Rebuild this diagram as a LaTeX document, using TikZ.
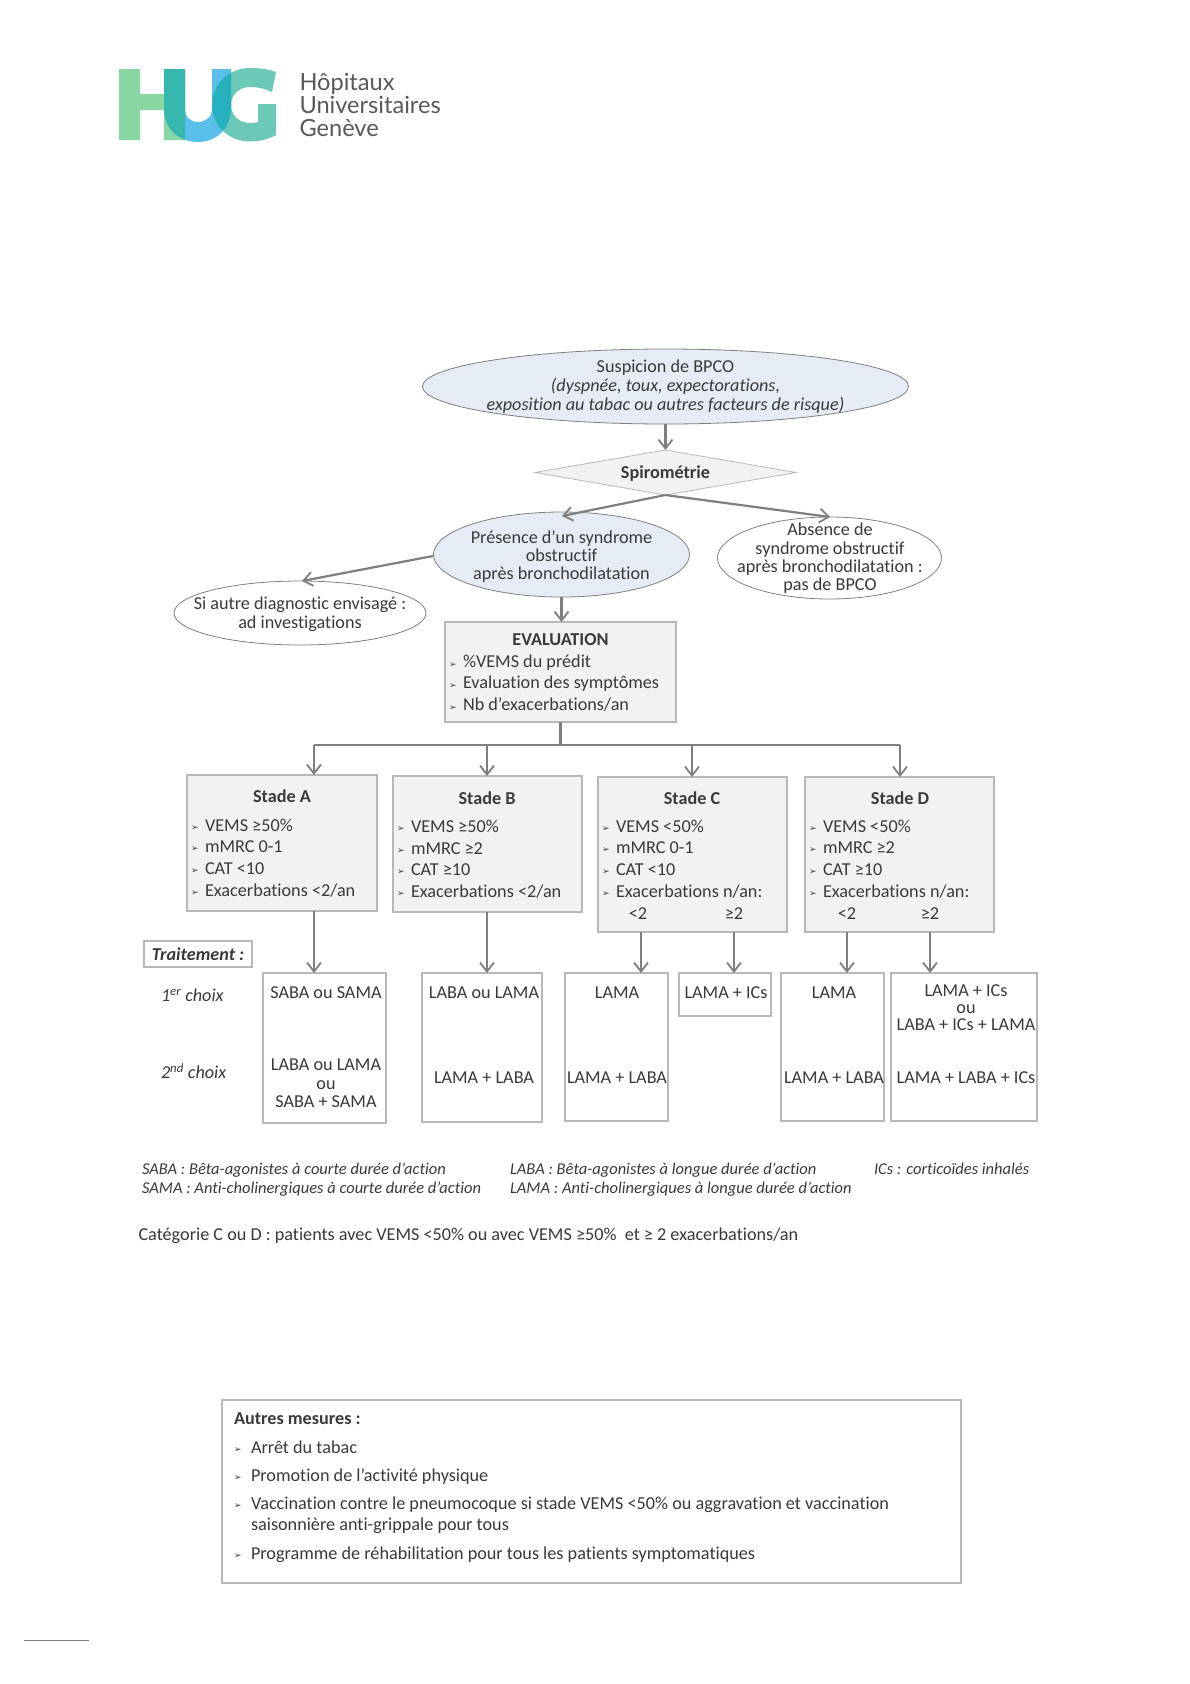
\documentclass[tikz,border=0pt]{standalone}
\usepackage{fontspec}
\usetikzlibrary{shapes.geometric,arrows.meta}
\setmainfont[Ligatures=CommonOff]{Carlito}
\newfontfamily\bulfont{DejaVu Sans}
\newfontfamily\logofont{Lato}
\newcommand{\bl}[1]{\makebox[#1pt][l]{\bulfont\fontsize{9}{9}\selectfont\raisebox{0.5pt}{➢}}}
\newcommand{\fs}{\fontsize{18.2}{19}\selectfont}
\definecolor{ink}{HTML}{3A3A3A}
\definecolor{edge}{HTML}{B8B8B8}
\definecolor{arrowc}{HTML}{7F7F7F}
\definecolor{boxfill}{HTML}{F2F2F2}
\definecolor{ellfill}{HTML}{E6ECF5}
\definecolor{logoH}{HTML}{8AD6A3}
\definecolor{logoU}{HTML}{5ABFEA}
\definecolor{logoG}{HTML}{6CC9B8}
\definecolor{logoHU}{HTML}{36B8AE}
\definecolor{logoUG}{HTML}{27B0BE}
\tikzset{
  txt/.style={inner sep=0pt,outer sep=0pt,text=ink,font=\fs,text height=14.3pt,text depth=1.7pt},
  lefttxt/.style={txt,anchor=west},
  boldtxt/.style={txt,font=\fs\bfseries},
  itatxt/.style={txt,font=\fs\itshape},
  small/.style={txt,anchor=west,font=\fontsize{16.5}{18}\selectfont\itshape},
  ell/.style={draw=arrowc,line width=0.8pt,ellipse,inner sep=0pt,outer sep=0pt},
  greybox/.style={draw=edge,line width=1.1pt,fill=boxfill,rectangle,inner sep=0pt,outer sep=0pt},
  whitebox/.style={draw=edge,line width=1.1pt,fill=white,rectangle,inner sep=0pt,outer sep=0pt},
  arr/.style={draw=arrowc,line width=2.2pt,-{Straight Barb[length=9pt,width=14pt,line width=1.8pt]}},
  plainline/.style={draw=arrowc,line width=2.2pt},
  logot/.style={inner sep=0pt,outer sep=0pt,anchor=west,text=black!65,font=\logofont\fontsize{23.6}{24}\selectfont,text height=17.4pt,text depth=0pt},
}
\newcommand{\rectbox}[6]{\pgfmathsetmacro\rw{#5-#3}\pgfmathsetmacro\rh{#6-#4}\pgfmathsetmacro\rx{(#3+#5)/2}\pgfmathsetmacro\ry{(#4+#6)/2}\node[#1,minimum width=\rw pt,minimum height=\rh pt] (#2) at (\rx,\ry) {};}
\def\Hpath{(119,69) -- (140,69) -- (140,94) -- (164,94) -- (164,69) -- (185,69) -- (185,140) -- (164,140) -- (164,110) -- (140,110) -- (140,140) -- (119,140) -- cycle}
\def\Upath{(164,69) -- (185,69) -- (185,108) .. controls (185,117) and (190,122) .. (198,122) .. controls (206,122) and (212,117) .. (212,108) -- (212,69) -- (231,69) -- (231,108) .. controls (231,128) and (217,142) .. (198,142) .. controls (178,142) and (164,128) .. (164,108) -- cycle}
\def\Gpath{(276,72) .. controls (268,69) and (260,68) .. (250,68) .. controls (229,68) and (212,84) .. (212,105) .. controls (212,126) and (229,141.5) .. (250,141.5) .. controls (260,141.5) and (269,139) .. (276,135) -- (276,104) -- (258,104) -- (258,122) .. controls (255,123) and (252,123) .. (250,123) .. controls (239,123) and (231,115) .. (231,105) .. controls (231,95) and (239,87) .. (250,87) .. controls (258,87) and (266,89) .. (272,92) -- cycle}
\begin{document}
\begin{tikzpicture}[x=1pt,y=-1pt]
\useasboundingbox (0,0) rectangle (1190,1684);
\fill[white] (0,0) rectangle (1190,1684);
% logo
\fill[logoH] \Hpath;
\fill[logoU] \Upath;
\fill[logoG] \Gpath;
\begin{scope}\clip \Hpath; \fill[logoHU] \Upath;\end{scope}
\begin{scope}\clip \Upath; \fill[logoUG] \Gpath;\end{scope}
\node[logot] (logoa) at (299.5,82) {Hôpitaux};
\node[logot] (logob) at (299.5,105) {Universitaires};
\node[logot] (logoc) at (299.5,128) {Genève};
% top flow
\node[ell,fill=ellfill,minimum width=486pt,minimum height=75pt] (susp) at (665.5,386.5) {};
\node[txt] (s1) at (665.5,366.5) {Suspicion de BPCO};
\node[itatxt] (s2) at (665.5,385) {(dyspnée, toux, expectorations,};
\node[itatxt] (s3) at (665.5,404) {exposition au tabac ou autres facteurs de risque)};
\node[diamond,draw=edge,line width=0.8pt,fill=boxfill,inner sep=0pt,outer sep=0pt,aspect=5.8,minimum width=261pt,minimum height=45pt] (spiro) at (665.5,472.5) {};
\node[boldtxt] (spirot) at (665.5,472.5) {Spirométrie};
\node[ell,fill=ellfill,minimum width=256pt,minimum height=85pt] (pres) at (561.5,554.5) {};
\node[txt] (p1) at (561.5,537) {Présence d’un syndrome};
\node[txt] (p2) at (561.5,555) {obstructif};
\node[txt] (p3) at (561.5,573) {après bronchodilatation};
\node[ell,fill=white,minimum width=224pt,minimum height=82pt] (abs) at (829.5,558) {};
\node[txt] (a1) at (830,529.5) {Absence de};
\node[txt] (a2) at (830,548) {syndrome obstructif};
\node[txt] (a3) at (830,566) {après bronchodilatation :};
\node[txt] (a4) at (830,584.5) {pas de BPCO};
\node[ell,fill=white,minimum width=252pt,minimum height=64pt] (autre) at (300,613) {};
\node[txt] (o1) at (300,603) {Si autre diagnostic envisagé :};
\node[txt] (o2) at (300,622) {ad investigations};
\rectbox{greybox}{eval}{445}{622}{676}{722}
\node[boldtxt] (e0) at (560.5,639) {EVALUATION};
\node[lefttxt] (e1) at (449,661.5) {\bl{14}\%VEMS du prédit};
\node[lefttxt] (e2) at (449,682.5) {\bl{14}Evaluation des symptômes};
\node[lefttxt] (e3) at (449,704.5) {\bl{14}Nb d’exacerbations/an};
\draw[arr] (susp.south) -- (spiro.north);
\coordinate (sp) at (spiro.south);
\coordinate (pt) at (562,516);
\coordinate (at) at (830,517);
\draw[arr] (sp) -- (pt);
\draw[arr] (sp) -- (at);
\coordinate (pl) at (433,556);
\coordinate (ot) at (302,581);
\draw[arr] (pl) -- (ot);
\draw[arr] (pres.south) -- (pres.south |- eval.north);
% stage boxes
\rectbox{greybox}{stA}{187}{775}{377}{911}
\rectbox{greybox}{stB}{393}{776}{582}{912}
\rectbox{greybox}{stC}{598}{777}{787}{932}
\rectbox{greybox}{stD}{805}{777}{994}{932}
\coordinate (bj) at (560.5,745);
\coordinate (bA) at (314,745);
\coordinate (bB) at (487,745);
\coordinate (bC) at (692,745);
\coordinate (bD) at (900,745);
\draw[plainline] (eval.south -| bj) -- (bj);
\draw[plainline] (bA) -- (bD);
\draw[arr] (bA) -- (bA |- stA.north);
\draw[arr] (bB) -- (bB |- stB.north);
\draw[arr] (bC) -- (bC |- stC.north);
\draw[arr] (bD) -- (bD |- stD.north);
% stage A
\node[boldtxt] (At) at (282,796) {Stade A};
\node[lefttxt] (A1) at (191,825) {\bl{14}VEMS ≥50\%};
\node[lefttxt] (A2) at (191,846) {\bl{14}mMRC 0-1};
\node[lefttxt] (A3) at (191,868) {\bl{14}CAT <10};
\node[lefttxt] (A4) at (191,890) {\bl{14}Exacerbations <2/an};
% stage B
\node[boldtxt] (Bt) at (487,798) {Stade B};
\node[lefttxt] (B1) at (397,826) {\bl{14}VEMS ≥50\%};
\node[lefttxt] (B2) at (397,848) {\bl{14}mMRC ≥2};
\node[lefttxt] (B3) at (397,869) {\bl{14}CAT ≥10};
\node[lefttxt] (B4) at (397,891) {\bl{14}Exacerbations <2/an};
% stage C
\node[boldtxt] (Ct) at (692,798) {Stade C};
\node[lefttxt] (C1) at (602,826) {\bl{14}VEMS <50\%};
\node[lefttxt] (C2) at (602,847) {\bl{14}mMRC 0-1};
\node[lefttxt] (C3) at (602,869) {\bl{14}CAT <10};
\node[lefttxt] (C4) at (602,891) {\bl{14}Exacerbations n/an:};
\node[txt] (C5) at (638,913) {<2};
\node[txt] (C6) at (734,913) {≥2};
% stage D
\node[boldtxt] (Dt) at (900,798) {Stade D};
\node[lefttxt] (D1) at (809,826) {\bl{14}VEMS <50\%};
\node[lefttxt] (D2) at (809,847) {\bl{14}mMRC ≥2};
\node[lefttxt] (D3) at (809,869) {\bl{14}CAT ≥10};
\node[lefttxt] (D4) at (809,891) {\bl{14}Exacerbations n/an:};
\node[txt] (D5) at (847,913) {<2};
\node[txt] (D6) at (930,913) {≥2};
% treatment boxes
\rectbox{whitebox}{trait}{144}{941}{252}{967}
\node[txt,font=\fs\bfseries\itshape] (traitt) at (198,954) {Traitement :};
\rectbox{whitebox}{tA}{263}{973}{386}{1123}
\rectbox{whitebox}{tB}{422}{973}{542}{1122}
\rectbox{whitebox}{tC}{565}{973}{668}{1121}
\rectbox{whitebox}{tCb}{679}{973}{771}{1016}
\rectbox{whitebox}{tD}{781}{973}{884}{1121}
\rectbox{whitebox}{tDb}{891}{973}{1037}{1121}
\coordinate (xA) at (314,0);
\coordinate (xB) at (487,0);
\coordinate (xC) at (641,0);
\coordinate (xCb) at (734,0);
\coordinate (xD) at (847,0);
\coordinate (xDb) at (930,0);
\draw[arr] (xA |- stA.south) -- (xA |- tA.north);
\draw[arr] (xB |- stB.south) -- (xB |- tB.north);
\draw[arr] (xC |- stC.south) -- (xC |- tC.north);
\draw[arr] (xCb |- stC.south) -- (xCb |- tCb.north);
\draw[arr] (xD |- stD.south) -- (xD |- tD.north);
\draw[arr] (xDb |- stD.south) -- (xDb |- tDb.north);
\node[itatxt,anchor=west] (ch1) at (161,995) {1\textsuperscript{er} choix};
\node[itatxt,anchor=west] (ch2) at (161,1072) {2\textsuperscript{nd} choix};
\node[txt] (ta1) at (326,992) {SABA ou SAMA};
\node[txt] (ta2) at (326,1064) {LABA ou LAMA};
\node[txt] (ta3) at (326,1083) {ou};
\node[txt] (ta4) at (326,1101) {SABA + SAMA};
\node[txt] (tb1) at (484,992) {LABA ou LAMA};
\node[txt] (tb2) at (484,1077) {LAMA + LABA};
\node[txt] (tc1) at (617,992) {LAMA};
\node[txt] (tc2) at (617,1077) {LAMA + LABA};
\node[txt] (tc3) at (726,992) {LAMA + ICs};
\node[txt] (td1) at (834,992) {LAMA};
\node[txt] (td2) at (834,1077) {LAMA + LABA};
\node[txt] (te1) at (966,990) {LAMA + ICs};
\node[txt] (te2) at (966,1007) {ou};
\node[txt] (te3) at (966,1024) {LABA + ICs + LAMA};
\node[txt] (te4) at (966,1077) {LAMA + LABA + ICs};
% legend
\node[small] (l1) at (142,1168.5) {SABA : Bêta-agonistes à courte durée d’action};
\node[small] (l2) at (142,1187) {SAMA : Anti-cholinergiques à courte durée d’action};
\node[small] (l3) at (510,1168.5) {LABA : Bêta-agonistes à longue durée d’action};
\node[small] (l4) at (510,1187) {LAMA : Anti-cholinergiques à longue durée d’action};
\node[small] (l5) at (874,1168.5) {ICs : corticoïdes inhalés};
\node[lefttxt] (cat) at (138.5,1234) {Catégorie C ou D : patients avec VEMS <50\% ou avec VEMS ≥50\%~ et ≥ 2 exacerbations/an};
% autres mesures
\rectbox{whitebox}{autres}{222}{1400}{961}{1583}
\node[lefttxt,font=\fs\bfseries] (m0) at (234,1418) {Autres mesures :};
\node[lefttxt] (m1) at (234,1447) {\bl{17}Arrêt du tabac};
\node[lefttxt] (m2) at (234,1475) {\bl{17}Promotion de l’activité physique};
\node[lefttxt] (m3) at (234,1503) {\bl{17}Vaccination contre le pneumocoque si stade VEMS <50\% ou aggravation et vaccination};
\node[lefttxt] (m4) at (251,1524) {saisonnière anti-grippale pour tous};
\node[lefttxt] (m5) at (234,1553) {\bl{17}Programme de réhabilitation pour tous les patients symptomatiques};
% footer rule
\draw[arrowc,line width=1pt] (24,1640) -- (89,1640);
\end{tikzpicture}
\end{document}
